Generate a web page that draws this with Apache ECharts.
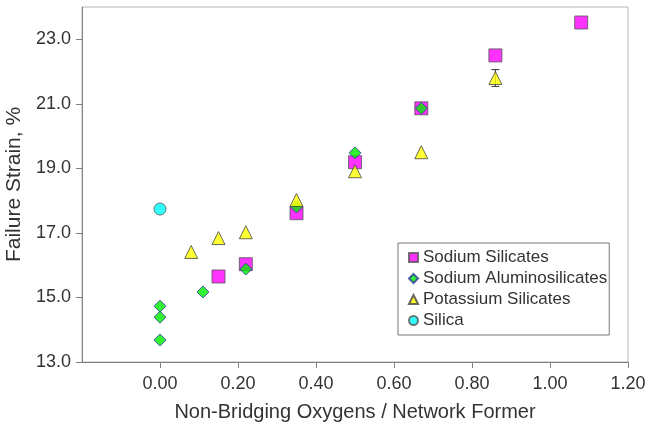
<!DOCTYPE html>
<html>
<head>
<meta charset="utf-8">
<script src="https://cdn.jsdelivr.net/npm/echarts@6/dist/echarts.min.js"></script>
<style>
  html, body { margin: 0; padding: 0; background: #fff; }
  #chart { width: 649px; height: 430px; }
</style>
</head>
<body>
<div id="chart"></div>
<script>
// values
const sodiumSilicates = [
  [0.15, 15.65], [0.22, 16.03], [0.35, 17.61], [0.50, 19.19],
  [0.67, 20.86], [0.86, 22.5], [1.08, 23.52]
];
const sodiumAlumino = [
  [0.00, 14.73], [0.00, 14.39], [0.00, 13.68], [0.11, 15.17],
  [0.22, 15.88], [0.35, 17.8], [0.50, 19.48], [0.67, 20.86]
];
const potassiumSilicates = [
  [0.08, 16.41], [0.15, 16.84], [0.22, 17.02], [0.35, 18.02],
  [0.50, 18.91], [0.67, 19.5], [0.86, 21.8]
];
// error bars: [x, low, high]
const potassiumErr = [[0.86, 21.54, 22.06]];
const silica = [[0.00, 17.74]];

const fontFam = 'Liberation Sans, Arial, sans-serif';

document.addEventListener("DOMContentLoaded", () => {
  const chart = echarts.init(document.querySelector("#chart"));

  chart.setOption({
    animation: false,
    grid: {
      left: 82, right: 21, top: 7, bottom: 68,
      outerBoundsMode: 'none',
      show: true, borderColor: '#b4b4b4', borderWidth: 1
    },
    legend: {
      orient: 'vertical',
      left: 398, top: 243,
      padding: [6, 2, 6, 10],
      itemGap: 4,
      itemWidth: 9, itemHeight: 9,
      borderColor: '#777', borderWidth: 1,
      backgroundColor: '#fff',
      textStyle: { fontFamily: fontFam, fontSize: 17, color: '#333', padding: [0, 0, 0, 0] },
      data: [
        { name: 'Sodium Silicates', icon: 'rect' },
        { name: 'Sodium Aluminosilicates', icon: 'diamond' },
        { name: 'Potassium Silicates', icon: 'triangle' },
        { name: 'Silica', icon: 'circle' }
      ]
    },
    xAxis: {
      type: 'value',
      min: -0.2, max: 1.2, interval: 0.2,
      name: 'Non-Bridging Oxygens / Network Former',
      nameLocation: 'middle', nameGap: 40,
      nameTextStyle: { fontFamily: fontFam, fontSize: 20, color: '#333' },
      axisLine: { onZero: false, lineStyle: { color: '#808080' } },
      axisTick: { inside: false, length: 6, lineStyle: { color: '#808080' } },
      axisLabel: {
        showMinLabel: false,
        margin: 13,
        fontFamily: fontFam, fontSize: 18, color: '#333',
        formatter: v => v.toFixed(2)
      },
      splitLine: { show: false }
    },
    yAxis: {
      type: 'value',
      min: 13, max: 24, interval: 2,
      name: 'Failure Strain, %',
      nameLocation: 'middle', nameGap: 55,
      nameTextStyle: { fontFamily: fontFam, fontSize: 21, color: '#333' },
      axisLine: { show: true, onZero: false, lineStyle: { color: '#808080' } },
      axisTick: { show: true, length: 6, lineStyle: { color: '#808080' } },
      axisLabel: {
        showMaxLabel: false,
        margin: 11,
        fontFamily: fontFam, fontSize: 18, color: '#333',
        formatter: v => v.toFixed(1)
      },
      splitLine: { show: false }
    },
    series: [
      {
        name: 'Sodium Silicates', type: 'scatter', symbol: 'rect', symbolSize: 13,
        itemStyle: { color: '#ff00ff', borderColor: '#555', borderWidth: 1 },
        data: sodiumSilicates
      },
      {
        name: 'Sodium Aluminosilicates', type: 'scatter', symbol: 'diamond', symbolSize: 12,
        itemStyle: { color: '#00ee00', borderColor: '#2a3a9a', borderWidth: 1 },
        data: sodiumAlumino
      },
      {
        name: 'Potassium Silicates', type: 'scatter', symbol: 'triangle', symbolSize: 13,
        itemStyle: { color: '#ffff00', borderColor: '#444', borderWidth: 1 },
        data: potassiumSilicates
      },
      {
        name: 'Potassium Silicates err', type: 'custom',
        z: 1,
        renderItem: (params, api) => {
          const top = api.coord([api.value(0), api.value(2)]);
          const bot = api.coord([api.value(0), api.value(1)]);
          const w = 4;
          const s = { stroke: '#333', lineWidth: 1 };
          return {
            type: 'group',
            children: [
              { type: 'line', shape: { x1: top[0], y1: top[1], x2: bot[0], y2: bot[1] }, style: s },
              { type: 'line', shape: { x1: top[0] - w, y1: top[1], x2: top[0] + w, y2: top[1] }, style: s },
              { type: 'line', shape: { x1: bot[0] - w, y1: bot[1], x2: bot[0] + w, y2: bot[1] }, style: s }
            ]
          };
        },
        data: potassiumErr
      },
      {
        name: 'Silica', type: 'scatter', symbol: 'circle', symbolSize: 12,
        itemStyle: { color: '#00ffff', borderColor: '#555', borderWidth: 1 },
        data: silica
      }
    ]
  });
});
</script>
</body>
</html>
